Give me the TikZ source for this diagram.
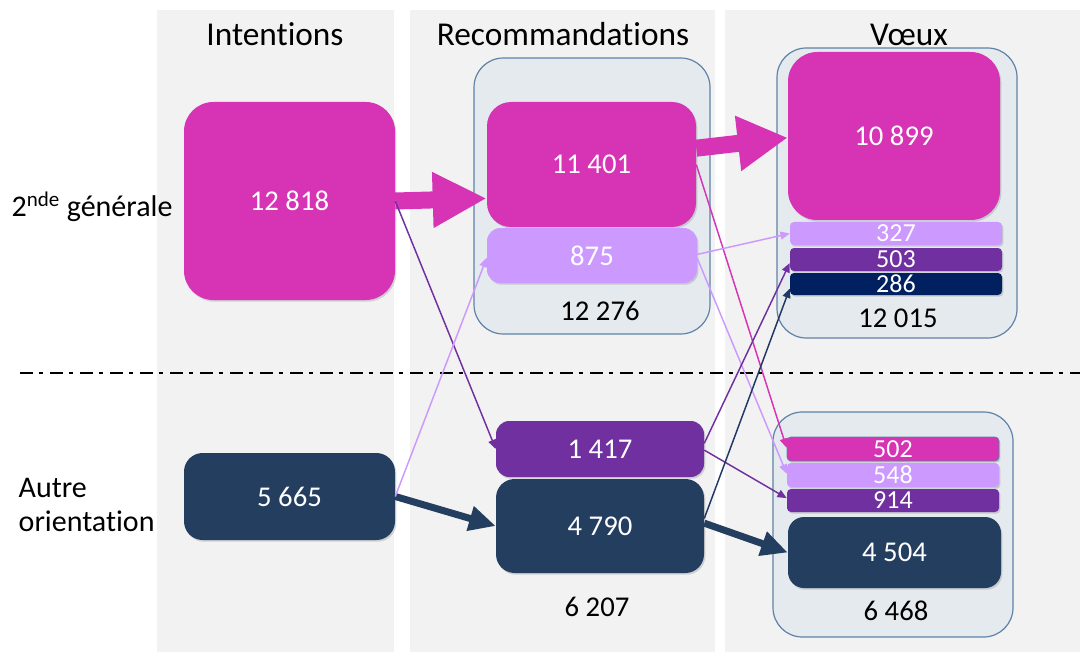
\documentclass[tikz,border=0pt]{standalone}
\usepackage{fontspec}
\setmainfont{Carlito}[Ligatures=NoCommon]
\usetikzlibrary{calc,arrows.meta,shadows}
\definecolor{mag}{HTML}{D633B5}
\definecolor{lpur}{HTML}{CC99FF}
\definecolor{pur}{HTML}{7030A0}
\definecolor{navy}{HTML}{243E60}
\definecolor{dnavy}{HTML}{002060}
\definecolor{colgray}{HTML}{F2F2F2}
\definecolor{contfill}{HTML}{E5EAEF}
\definecolor{contline}{HTML}{5F82A8}
\definecolor{thinnavy}{HTML}{1F3864}
% style, name, x1, y1, x2, y2, text
\newcommand\pxbox[7]{%
  \pgfmathsetmacro\bxw{(#5-#3)*0.75}%
  \pgfmathsetmacro\bxh{(#6-#4)*0.75}%
  \node[#1,minimum width=\bxw pt,minimum height=\bxh pt] (#2) at ({(#3+#5)/2},{(#4+#6)/2}) {#7};}
\begin{document}
\begin{tikzpicture}[x=0.75pt,y=-0.75pt,
  colbg/.style={inner sep=0pt,fill=colgray,draw=none},
  cont/.style={inner sep=0pt,fill=contfill,draw=contline,line width=0.9pt,rounded corners=22pt},
  box/.style={inner sep=0pt,text=white,font=\fontsize{21.5}{24}\selectfont,
    drop shadow={opacity=0.3,shadow xshift=1pt,shadow yshift=-1.3pt}},
  bigbox/.style={box,rounded corners=22pt},
  midbox/.style={box,rounded corners=10pt},
  barbox/.style={box,rounded corners=3pt,font=\fontsize{19.5}{21}\selectfont},
  hdr/.style={font=\fontsize{25}{29}\selectfont,anchor=base},
  lbl/.style={font=\fontsize{22.5}{26}\selectfont},
  num/.style={font=\fontsize{21.5}{24}\selectfont},
  blockarrow/.style={line width=12.75pt},
  thin/.style={line width=1.1pt,-{Triangle[length=7pt,width=6pt]}},
  sep/.style={line width=2.2pt,dash pattern=on 9.75pt off 4.5pt on 3pt off 5.25pt}
]
\useasboundingbox (0,0) rectangle (1080,652);
% columns
\pxbox{colbg}{c1}{157}{10}{394}{652}{}
\pxbox{colbg}{c2}{410}{10}{715}{652}{}
\pxbox{colbg}{c3}{725}{10}{1080}{652}{}
% headers
\node[hdr] (h1) at (275,46) {Intentions};
\node[hdr] (h2) at (563,46) {Recommandations};
\node[hdr] (h3) at (909,46) {Vœux};
% row labels
\node[lbl,anchor=west] (l1) at (7,207) {2\textsuperscript{nde} générale};
\node[lbl,anchor=west,align=left] (l2) at (14,505) {Autre\\orientation};
% separator
\coordinate (s1) at (20,373);
\coordinate (s2) at (1080,373);
\draw[sep] (s1) -- (s2);
% containers
\pxbox{cont}{rc}{474}{58}{710}{334}{}
\pxbox{cont}{vc}{777}{48}{1017}{338}{}
\pxbox{cont}{wc}{773}{412}{1013}{637}{}
% intentions
\pxbox{bigbox,fill=mag}{i1}{184}{102}{395}{300}{12 818}
\pxbox{midbox,fill=navy,rounded corners=14pt}{i2}{184}{453}{395}{540}{5 665}
% recommandations
\pxbox{bigbox,fill=mag,rounded corners=18pt}{r1}{487}{102}{696}{227}{11 401}
\pxbox{midbox,fill=lpur}{r2}{487}{228}{697}{283}{875}
\pxbox{midbox,fill=pur}{r3}{496}{421}{704}{477}{1 417}
\pxbox{midbox,fill=navy,rounded corners=14pt}{r4}{496}{479}{704}{573}{4 790}
\node[num] (t1) at (600,311) {12 276};
\node[num] (t2) at (597,607) {6 207};
% voeux
\pxbox{bigbox,fill=mag}{v1}{788}{52}{1000}{220}{10 899}
\pxbox{barbox,fill=lpur}{v2}{790}{222}{1002}{245}{327}
\pxbox{barbox,fill=pur}{v3}{790}{248}{1002}{271}{503}
\pxbox{barbox,fill=dnavy}{v4}{790}{273}{1002}{295}{286}
\node[num] (t3) at (898,318) {12 015};
\pxbox{barbox,fill=mag,draw=contline,line width=0.6pt}{w1}{787}{437}{999}{461}{502}
\pxbox{barbox,fill=lpur}{w2}{787}{463}{999}{487}{548}
\pxbox{barbox,fill=pur}{w3}{787}{489}{999}{512}{914}
\pxbox{midbox,fill=navy,rounded corners=12pt}{w4}{788}{517}{1001}{588}{4 504}
\node[num] (t4) at (896,611) {6 468};
% block arrows
\draw[blockarrow,mag,-{Triangle[length=40.5pt,width=39pt]}]
  (i1.east) -- ($(r1.north west)!0.77!(r1.south west)$);
\draw[blockarrow,mag,-{Triangle[length=37.5pt,width=39pt]}]
  ($(r1.north east)!0.37!(r1.south east)$) -- ($(v1.north west)!0.51!(v1.south west)$);
\draw[line width=5.25pt,navy,-{Triangle[length=20pt,width=18pt]}]
  (i2.east) -- (r4.west);
\draw[line width=5.25pt,navy,-{Triangle[length=20pt,width=18pt]}]
  ($(r4.north east)!0.47!(r4.south east)$) -- (w4.west);
% thin arrows
\draw[thin,pur] (i1.east) -- (r3.west);
\draw[thin,lpur] (i2.east) -- ($(r2.north west)!0.54!(r2.south west)$);
\draw[thin,mag] ($(r1.north east)!0.5!(r1.south east)$) -- ($(w1.north west)!0.45!(w1.south west)$);
\draw[thin,lpur] ($(r2.north east)!0.48!(r2.south east)$) -- (v2.west);
\draw[thin,lpur] ($(r2.north east)!0.55!(r2.south east)$) -- ($(w2.north west)!0.45!(w2.south west)$);
\draw[thin,pur] ($(r3.north east)!0.4!(r3.south east)$) -- ($(v3.north west)!0.65!(v3.south west)$);
\draw[thin,pur] ($(r3.north east)!0.52!(r3.south east)$) -- ($(w3.north west)!0.4!(w3.south west)$);
\draw[thin,thinnavy] ($(r4.north east)!0.42!(r4.south east)$) -- ($(v4.north west)!0.7!(v4.south west)$);
\end{tikzpicture}
\end{document}
